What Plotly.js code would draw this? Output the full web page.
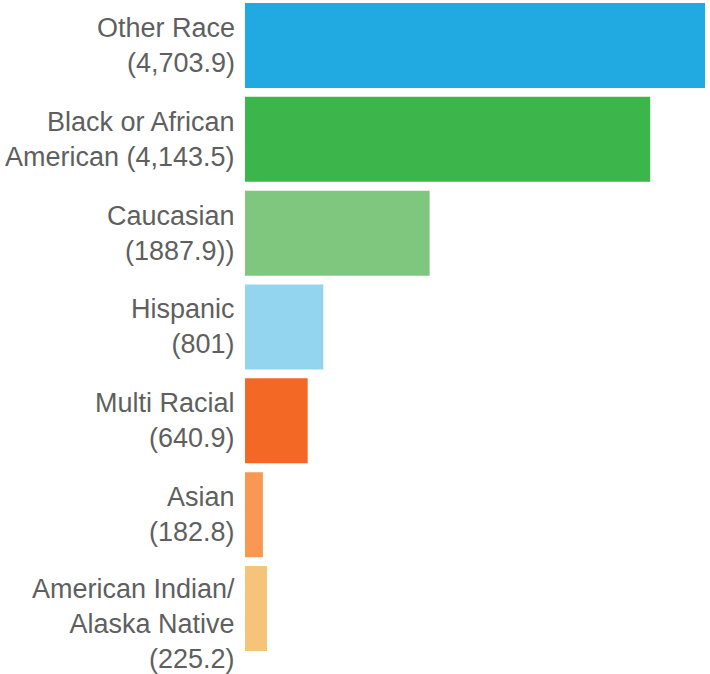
<!DOCTYPE html>
<html>
<head>
<meta charset="utf-8">
<script src="https://cdn.plot.ly/plotly-3.0.1.min.js"></script>
<style>html,body{margin:0;padding:0;background:#fff;}#chart{width:710px;height:674px;}</style>
</head>
<body>
<div id="chart"></div>
<script>
const categories = ["Other Race", "Black or African American", "Caucasian", "Hispanic", "Multi Racial", "Asian", "American Indian/ Alaska Native"];
const labels = ["Other Race<br>(4,703.9)", "Black or African<br>American (4,143.5)", "Caucasian<br>(1887.9))", "Hispanic<br>(801)", "Multi Racial<br>(640.9)", "Asian<br>(182.8)", "American Indian/<br>Alaska Native<br>(225.2)"];
const values = [4703.9, 4143.5, 1887.9, 801, 640.9, 182.8, 225.2];
const colors = ["#20AAE1", "#3CB54A", "#7FC77E", "#93D4EE", "#F26824", "#F89852", "#F5C37A"];
const labelLines = labels.map(l => l.split("<br>").length);

const trace = {
  type: "bar",
  orientation: "h",
  x: values,
  y: categories,
  marker: {color: colors},
  hoverinfo: "x+y"
};

const annotations = categories.map((c, i) => ({
  x: 0, xref: "x", y: c, yref: "y",
  text: labels[i],
  showarrow: false,
  xanchor: "right", yanchor: "middle", align: "right",
  xshift: -8,
  yshift: labelLines[i] > 2 ? -16 : 0,
  font: {family: "'Liberation Sans', Arial, sans-serif", size: 27, color: "#5f5f5f"}
}));

const layout = {
  width: 710, height: 674,
  margin: {l: 245, r: 5, t: 0, b: 19},
  paper_bgcolor: "#fff", plot_bgcolor: "#fff",
  bargap: 0.094,
  showlegend: false,
  xaxis: {range: [0, 4703.9], visible: false, fixedrange: true},
  yaxis: {type: "category", range: [6.496, -0.485], showticklabels: false, showgrid: false, zeroline: false, showline: false, ticks: ""},
  annotations: annotations
};

Plotly.newPlot("chart", [trace], layout, {displayModeBar: false, staticPlot: true});
</script>
</body>
</html>
